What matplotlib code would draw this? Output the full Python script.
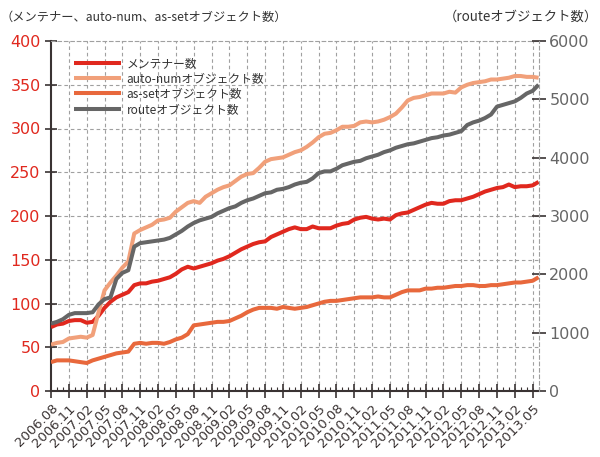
import matplotlib
matplotlib.use("Agg")
import matplotlib.pyplot as plt
import numpy as np

# ---- data (monthly, 2006.08 .. 2013.06) ----
maintainers = [73, 76, 77, 80, 81, 81, 78, 79, 86, 95, 102, 107, 110, 113, 121, 123, 123, 125, 126, 128,
               130, 134, 139, 142, 140, 142, 144, 146, 149, 151, 154, 158, 162, 165, 168, 170, 171, 176,
               179, 182, 185, 187, 185, 185, 188, 186, 186, 186, 189, 191, 192, 196, 198, 199, 197, 196,
               197, 196, 201, 203, 204, 207, 210, 213, 215, 214, 214, 217, 218, 218, 220, 222, 225, 228,
               230, 232, 233, 236, 233, 234, 234, 235, 239]
auto_num = [53, 55, 56, 60, 61, 62, 61, 64, 90, 115, 124, 132, 141, 148, 180, 184, 187, 190, 195, 196,
            198, 205, 210, 215, 217, 215, 222, 226, 230, 233, 235, 240, 245, 248, 249, 255, 262, 265,
            266, 267, 270, 273, 275, 279, 284, 290, 294, 295, 298, 302, 302, 303, 307, 308, 307, 308,
            310, 313, 317, 324, 332, 335, 336, 338, 340, 340, 340, 342, 341, 347, 350, 352, 353, 354,
            356, 356, 357, 358, 360, 360, 359, 359, 358]
as_set = [33, 35, 35, 35, 34, 33, 32, 35, 37, 39, 41, 43, 44, 45, 54, 55, 54, 55, 55, 54,
          56, 59, 61, 65, 75, 76, 77, 78, 79, 79, 80, 83, 86, 90, 93, 95, 95, 95, 94, 96,
          95, 94, 95, 96, 98, 100, 102, 103, 103, 104, 105, 106, 107, 107, 107, 108, 107, 107,
          110, 113, 115, 115, 115, 117, 117, 118, 118, 119, 120, 120, 121, 121, 120, 120, 121,
          121, 122, 123, 124, 124, 125, 126, 130]
route = [1155, 1185, 1230, 1305, 1335, 1335, 1335, 1350, 1485, 1575, 1605, 1920, 2025, 2070, 2475,
         2535, 2550, 2565, 2580, 2595, 2625, 2685, 2745, 2820, 2880, 2925, 2955, 2985, 3045, 3090,
         3135, 3165, 3225, 3270, 3300, 3345, 3390, 3405, 3450, 3465, 3495, 3540, 3570, 3585, 3645,
         3735, 3765, 3765, 3810, 3870, 3900, 3930, 3945, 3990, 4020, 4050, 4095, 4125, 4170, 4200,
         4230, 4245, 4275, 4305, 4335, 4350, 4380, 4395, 4425, 4455, 4560, 4605, 4635, 4680, 4740,
         4875, 4905, 4935, 4965, 5025, 5100, 5145, 5250]
tick_labels = ["2006.08", "2006.11", "2007.02", "2007.05", "2007.08", "2007.11", "2008.02",
               "2008.05", "2008.08", "2008.11", "2009.02", "2009.05", "2009.08", "2009.11",
               "2010.02", "2010.05", "2010.08", "2010.11", "2011.02", "2011.05", "2011.08",
               "2011.11", "2012.02", "2012.05", "2012.08", "2012.11", "2013.02", "2013.05"]
series_names = ["メンテナー数", "auto-numオブジェクト数", "as-setオブジェクト数", "routeオブジェクト数"]
left_title = "（メンテナー、auto-num、as-setオブジェクト数）"
right_title = "（routeオブジェクト数）"

C_RED = "#E0281E"
C_SALMON = "#F1A07A"
C_ORANGE = "#E8683C"
C_GRAY = "#666666"
C_DARK = "#3a3333"
C_GRID = "#a0a0a0"
CJK = ["Noto Sans CJK JP", "DejaVu Sans"]

x = np.arange(len(maintainers))
xt = np.arange(0, len(tick_labels) * 3, 3)

fig = plt.figure(figsize=(6, 4.57), dpi=100)
ax = fig.add_axes([51 / 600, 66 / 457, (538.6 - 51) / 600, 350 / 457])
ax2 = ax.twinx()

lw = 2.9
l1, = ax.plot(x, maintainers, color=C_RED, lw=lw, solid_capstyle="butt", zorder=3)
l2, = ax.plot(x, auto_num, color=C_SALMON, lw=lw, solid_capstyle="butt", zorder=3)
l3, = ax.plot(x, as_set, color=C_ORANGE, lw=lw, solid_capstyle="butt", zorder=3)
l4, = ax2.plot(x, route, color=C_GRAY, lw=lw, solid_capstyle="butt", zorder=3)

ax.set_xlim(0, len(maintainers) - 1)
ax.set_ylim(0, 400)
ax2.set_ylim(0, 6000)

# grid
dash = (0, (3.2, 2.6))
for v in range(50, 400, 50):
    ax.axhline(v, color=C_GRID, lw=0.8, ls=dash, zorder=1)
for v in xt[1:]:
    ax.axvline(v, color=C_GRID, lw=0.8, ls=dash, zorder=1)

# spines
for s in ["top", "right"]:
    ax.spines[s].set_color(C_GRID)
    ax.spines[s].set_linestyle(dash)
    ax.spines[s].set_linewidth(0.8)
ax.spines["right"].set_visible(False)
for s in ["left", "bottom"]:
    ax.spines[s].set_color(C_DARK)
    ax.spines[s].set_linewidth(1.5)
for s in ["left", "bottom", "top"]:
    ax2.spines[s].set_visible(False)
ax2.spines["right"].set_color(C_GRID)
ax2.spines["right"].set_linestyle(dash)
ax2.spines["right"].set_linewidth(0.8)

# ticks
ax.set_yticks(range(0, 401, 50))
ax.tick_params(axis="y", direction="inout", length=9, width=1.2, color=C_DARK,
               labelcolor=C_RED, labelsize=11.5, pad=3)
ax.set_xticks(xt)
ax.set_xticks(x, minor=True)
ax.set_xticklabels(tick_labels, rotation=45, ha="right", va="top",
                   rotation_mode="anchor", fontsize=9.5, color=C_DARK)
ax.tick_params(axis="x", which="major", direction="inout", length=9.5, width=1.2, color=C_DARK, pad=3)
ax.tick_params(axis="x", which="minor", direction="in", length=3, width=0.8, color=C_DARK)

ax2.set_yticks(range(0, 6001, 1000))
ax2.tick_params(axis="y", direction="inout", length=9.5, width=1.2, color=C_DARK,
                labelcolor="#666666", labelsize=11.5, pad=3)

# legend
leg = ax.legend([l1, l2, l3, l4], series_names, loc="upper left",
                bbox_to_anchor=(68 / 600, 1 - 51 / 457), bbox_transform=fig.transFigure,
                frameon=False, borderpad=0, handlelength=4.0, handletextpad=0.45,
                labelspacing=0.2, prop={"family": CJK, "size": 8.5})
for t in leg.get_texts():
    t.set_color("#333333")

fig.text(0.5 / 600, 1 - 17 / 457, left_title, family=CJK, fontsize=8.8, color="#333333",
         ha="left", va="center")
fig.text(598 / 600, 1 - 17 / 457, right_title, family=CJK, fontsize=9.6, color="#333333",
         ha="right", va="center")

fig.savefig("out.png", dpi=100)
